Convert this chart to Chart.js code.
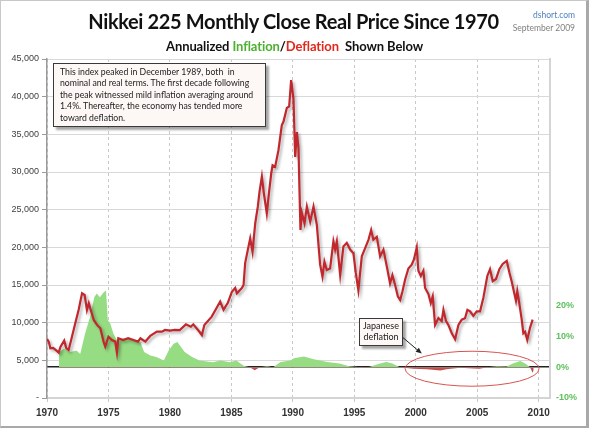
<!DOCTYPE html>
<html>
<head>
<meta charset="utf-8">
<script src="https://cdn.jsdelivr.net/npm/chart.js@4.4.1/dist/chart.umd.min.js"></script>
<style>
  body { margin: 0; background: #fff; }
  #wrap { position: relative; width: 590px; height: 429px; font-family: Lato, "Open Sans", sans-serif; }
  #frame { position: absolute; left: 0; top: 0; width: 585px; height: 425px;
           border: 1px solid #c8c8c8; border-right: 3px solid #a9a9a9; border-bottom: 2px solid #a9a9a9; pointer-events: none; }
  canvas { position: absolute; left: 0; top: 0; }
  #title { position: absolute; left: 0; top: 11px; width: 587px; text-align: center; white-space: nowrap;
           font-size: 20px; font-weight: 700; line-height: 1; color: #111; letter-spacing: -0.35px; }
  #subtitle { position: absolute; left: 0; top: 40px; width: 589px; text-align: center; white-space: nowrap;
              font-size: 13px; font-weight: 700; line-height: 1; color: #111; letter-spacing: -0.1px; }
  #subtitle .inf { color: #4cb030; }
  #subtitle .def { color: #e0281c; }
  #source { position: absolute; right: 15px; top: 9px; text-align: right; font-size: 8.5px; line-height: 13px; }
  #source .site { color: #4f81bd; }
  #source .date { color: #808080; }
  .note { position: absolute; background: #fdf8f6; border: 1px solid #3a3a3a; color: #222;
          box-shadow: 3px 3px 2px rgba(0,0,0,0.35); white-space: pre; }
  #note1 { left: 53px; top: 63px; width: 205px; height: 60px; padding: 2px 0 0 6px;
           font-size: 8.7px; line-height: 11.4px; }
  #note2 { left: 359px; top: 318px; width: 42px; height: 25px; text-align: center;
           font-size: 9px; line-height: 11px; padding-top: 1px; }
</style>
</head>
<body>
<div id="wrap">
  <canvas id="nikkeiChart" width="590" height="429"></canvas>
  <div id="title">Nikkei 225 Monthly Close Real Price Since 1970</div>
  <div id="subtitle">Annualized <span class="inf">Inflation</span>/<span class="def">Deflation</span>&nbsp; Shown Below</div>
  <div id="source"><div class="site">dshort.com</div><div class="date">September 2009</div></div>
  <div class="note" id="note1">This index peaked in December 1989, both  in
nominal and real terms. The first decade following
the peak witnessed mild inflation averaging around
1.4%. Thereafter, the economy has tended more
toward deflation.</div>
  <div class="note" id="note2">Japanese
deflation</div>
  <div id="frame"></div>
</div>

<script>
/* =====================================
   DATA
===================================== */

const priceYears = [
    1970.00, 1970.14, 1970.27, 1970.50, 1970.70, 1970.95, 1971.10, 1971.40, 1971.57, 1971.76,
    1972.03, 1972.30, 1972.57, 1972.85, 1973.06, 1973.25, 1973.40, 1973.60, 1973.80, 1974.07,
    1974.34, 1974.60, 1974.74, 1975.00, 1975.28, 1975.55, 1975.69, 1975.80, 1976.20, 1976.60,
    1977.03, 1977.40, 1977.60, 1978.00, 1978.40, 1978.94, 1979.35, 1979.60, 1980.00, 1980.40,
    1980.80, 1981.30, 1981.70, 1981.90, 1982.40, 1982.60, 1982.80, 1983.40, 1984.09, 1984.36,
    1984.70, 1985.04, 1985.31, 1985.45, 1985.85, 1985.99, 1986.12, 1986.34, 1986.53, 1986.72,
    1986.94, 1987.15, 1987.29, 1987.48, 1987.64, 1987.88, 1988.07, 1988.24, 1988.35, 1988.56,
    1988.83, 1989.10, 1989.24, 1989.51, 1989.70, 1989.86, 1990.05, 1990.19, 1990.33, 1990.46,
    1990.62, 1990.73, 1990.95, 1991.14, 1991.41, 1991.68, 1991.95, 1992.22, 1992.41, 1992.57,
    1992.76, 1993.03, 1993.30, 1993.44, 1993.58, 1993.85, 1994.11, 1994.39, 1994.66, 1994.93,
    1995.12, 1995.33, 1995.61, 1995.88, 1996.15, 1996.37, 1996.55, 1996.83, 1997.10, 1997.37,
    1997.64, 1997.91, 1998.10, 1998.32, 1998.54, 1998.73, 1998.91, 1999.13, 1999.40, 1999.67,
    1999.85, 2000.08, 2000.21, 2000.41, 2000.62, 2000.76, 2001.03, 2001.22, 2001.38, 2001.57,
    2001.84, 2002.11, 2002.25, 2002.46, 2002.65, 2002.93, 2003.20, 2003.47, 2003.74, 2004.01,
    2004.20, 2004.42, 2004.68, 2004.96, 2005.23, 2005.50, 2005.82, 2006.04, 2006.26, 2006.53,
    2006.80, 2007.07, 2007.40, 2007.61, 2007.80, 2008.15, 2008.26, 2008.42, 2008.62, 2008.75,
    2008.89, 2009.07, 2009.29, 2009.51
];

const priceValues = [
    7840, 7490, 6600, 6650, 6380, 6030, 6820, 7620, 6600, 6380,
    8140, 9920, 11680, 13900, 13670, 11680, 12570, 11460, 10360, 9700,
    9250, 7490, 6820, 8140, 7700, 7490, 6030, 7930, 7700, 7930,
    7700, 7490, 7930, 7490, 8240, 8810, 8810, 9030, 8940, 9030,
    9020, 9780, 9460, 9780, 8790, 8350, 9690, 10800, 12800, 11700,
    12600, 14100, 14600, 13900, 14600, 15000, 17900, 19700, 21200, 19400,
    23200, 25400, 27400, 29400, 27200, 24500, 27400, 29800, 30900, 30700,
    32900, 36200, 36700, 38500, 38700, 42200, 39700, 32000, 35300, 33100,
    22300, 24600, 23200, 25400, 23400, 25400, 23000, 17700, 16100, 18100,
    17000, 17200, 20800, 19700, 20800, 16300, 20100, 20600, 19700, 19200,
    16600, 14300, 18800, 19900, 21000, 22300, 21000, 21400, 18800, 19700,
    17500, 15200, 16300, 15000, 13500, 13000, 14100, 15700, 17200, 17700,
    18400, 20000, 16900, 16200, 16900, 14600, 13800, 12600, 13500, 9700,
    10600, 10200, 11700, 10200, 9700, 8600, 7800, 9700, 10400, 10600,
    11700, 11500, 10900, 11500, 11500, 13300, 16200, 17100, 15500, 15800,
    17100, 17800, 18200, 16700, 15500, 12900, 14200, 12600, 10400, 8600,
    8800, 7700, 9300, 10400
];

const inflationYears = [
    1970.97, 1971.40, 1971.90, 1972.40, 1972.70, 1973.10, 1973.50, 1973.85, 1974.05, 1974.30,
    1974.60, 1974.80, 1974.95, 1975.15, 1975.40, 1975.70, 1976.20, 1976.80, 1977.00, 1977.60,
    1977.90, 1978.40, 1978.90, 1979.50, 1979.90, 1980.30, 1980.60, 1980.80, 1981.20, 1981.80,
    1982.40, 1983.50, 1984.10, 1984.90, 1985.40, 1986.00, 1986.50, 1986.90, 1987.30, 1987.90,
    1988.40, 1989.00, 1989.80, 1990.10, 1990.90, 1991.70, 1992.80, 1993.80, 1994.60, 1995.50,
    1996.00, 1997.10, 1997.60, 1998.10, 1998.70, 1999.80, 2000.90, 2002.00, 2002.50, 2003.60,
    2004.70, 2005.20, 2005.80, 2006.60, 2007.40, 2007.90, 2008.50, 2008.90, 2009.30, 2009.50,
    2009.60
];

const inflationValues = [
    4.9, 6.0, 4.9, 5.4, 4.3, 10.9, 16.3, 22.8, 23.9, 22.7,
    24.2, 24.9, 15.2, 14.2, 10.9, 8.7, 9.3, 9.3, 8.7, 8.2,
    4.9, 3.8, 3.3, 2.2, 5.4, 7.6, 8.2, 7.1, 4.9, 3.3,
    2.2, 1.6, 2.2, 1.6, 2.2, 0.5, 0.0, -1.0, 0.0, 0.3,
    0.0, 1.7, 2.2, 2.9, 3.5, 2.6, 1.7, 1.2, 0.3, 0.0,
    -0.2, 1.2, 1.7, 1.2, 0.0, -0.5, -0.7, -1.1, -0.7, -0.2,
    -0.4, -0.5, 0.0, 0.3, 0.2, 1.2, 2.0, 1.2, 0.0, -1.8,
    -1.0
];

const yearTicks = [1970, 1975, 1980, 1985, 1990, 1995, 2000, 2005, 2010];
const priceTicks = [0, 5000, 10000, 15000, 20000, 25000, 30000, 35000, 40000, 45000];
const percentTicks = [-10, 0, 10, 20];

/* =====================================
   CALLOUT (ellipse + arrow) PLACEMENT
===================================== */

const ellipseSpot = { year: 2004.58, pct: -0.5, halfYears: 5.45, halfPx: 17.5 };
const arrowFrom = { year: 1998.72, pct: 10.4 };
const arrowTo = { year: 2000.49, pct: 4.4 };

/* =====================================
   PLUGINS
===================================== */

const lineShadow = {
    id: "lineShadow",
    beforeDatasetDraw(chart, args) {
        if (args.index !== 0) return;
        const ctx = chart.ctx;
        ctx.save();
        ctx.shadowColor = "rgba(0,0,0,0.32)";
        ctx.shadowBlur = 3;
        ctx.shadowOffsetX = 2;
        ctx.shadowOffsetY = 2;
    },
    afterDatasetDraw(chart, args) {
        if (args.index !== 0) return;
        chart.ctx.restore();
    }
};

const deflationCallout = {
    id: "deflationCallout",
    afterDatasetsDraw(chart) {
        const { ctx, scales } = chart;
        const x = scales.x, y2 = scales.y2;

        // ellipse round the deflation years
        const cx = x.getPixelForValue(ellipseSpot.year);
        const cy = y2.getPixelForValue(ellipseSpot.pct);
        const rx = x.getPixelForValue(ellipseSpot.year + ellipseSpot.halfYears) - cx;
        ctx.save();
        ctx.strokeStyle = "#d9534f";
        ctx.lineWidth = 1;
        ctx.beginPath();
        ctx.ellipse(cx, cy, rx, ellipseSpot.halfPx, 0, 0, Math.PI * 2);
        ctx.stroke();

        // arrow from the label box
        const x1 = x.getPixelForValue(arrowFrom.year), y1 = y2.getPixelForValue(arrowFrom.pct);
        const x2 = x.getPixelForValue(arrowTo.year), y2p = y2.getPixelForValue(arrowTo.pct);
        const ang = Math.atan2(y2p - y1, x2 - x1);
        ctx.strokeStyle = "#222";
        ctx.fillStyle = "#222";
        ctx.beginPath();
        ctx.moveTo(x1, y1);
        ctx.lineTo(x2 - 4 * Math.cos(ang), y2p - 4 * Math.sin(ang));
        ctx.stroke();
        ctx.beginPath();
        ctx.moveTo(x2, y2p);
        ctx.lineTo(x2 - 6 * Math.cos(ang) + 2.5 * Math.sin(ang), y2p - 6 * Math.sin(ang) - 2.5 * Math.cos(ang));
        ctx.lineTo(x2 - 6 * Math.cos(ang) - 2.5 * Math.sin(ang), y2p - 6 * Math.sin(ang) + 2.5 * Math.cos(ang));
        ctx.closePath();
        ctx.fill();
        ctx.restore();
    }
};

/* =====================================
   CHART
===================================== */

Chart.defaults.font.family = '"Liberation Sans", Arial, sans-serif';

const priceData = priceYears.map((yr, i) => ({ x: yr, y: priceValues[i] }));
const inflationData = inflationYears.map((yr, i) => ({ x: yr, y: inflationValues[i] }));

new Chart(document.getElementById("nikkeiChart").getContext("2d"), {
    type: "line",
    data: {
        datasets: [
            {
                label: "Nikkei 225 real price",
                data: priceData,
                yAxisID: "y",
                borderColor: "#c1272d",
                borderWidth: 2.2,
                pointRadius: 0,
                tension: 0,
                fill: false
            },
            {
                label: "Annualized inflation",
                data: inflationData,
                yAxisID: "y2",
                borderColor: "rgba(0,0,0,0)",
                borderWidth: 0,
                pointRadius: 0,
                tension: 0,
                fill: { target: "origin", above: "#96dc82", below: "#c0504d" }
            }
        ]
    },
    options: {
        responsive: false,
        animation: false,
        layout: { padding: { top: 59, left: 0, right: 0, bottom: 0 } },
        plugins: {
            legend: { display: false },
            tooltip: { enabled: false }
        },
        scales: {
            x: {
                type: "linear",
                min: 1970,
                max: 2010.92,
                afterBuildTicks: s => { s.ticks = yearTicks.map(v => ({ value: v })); },
                afterFit: s => { s.height = 31; },
                grid: { color: "#c8c8c8", lineWidth: 1, tickLength: 6, tickColor: "#c8c8c8", tickBorderDash: [3, 3] },
                border: { color: "#d4d4d4", width: 2, dash: [3, 3] },
                ticks: {
                    font: { size: 10, weight: "bold" },
                    color: "#333",
                    padding: 3,
                    maxRotation: 0,
                    callback: v => String(v)
                }
            },
            y: {
                position: "left",
                min: 0,
                max: 45000,
                afterBuildTicks: s => { s.ticks = priceTicks.map(v => ({ value: v })); },
                afterFit: s => { s.width = 47; },
                grid: { color: "#d9d9d9", lineWidth: 1, tickLength: 5, tickColor: "#9a9a9a" },
                border: { color: "#9a9a9a", width: 1.5 },
                ticks: {
                    font: { size: 9 },
                    color: "#404040",
                    padding: 3,
                    callback: v => v === 0 ? "-" : v.toLocaleString("en-US")
                }
            },
            y2: {
                position: "right",
                min: -10,
                max: 100,
                afterBuildTicks: s => { s.ticks = percentTicks.map(v => ({ value: v })); },
                afterFit: s => { s.width = 40; },
                grid: {
                    drawTicks: false,
                    lineWidth: 1.5,
                    color: c => (c.tick && c.tick.value === 0) ? "#222" : "rgba(0,0,0,0)"
                },
                border: { color: "#d4d4d4", width: 2 },
                ticks: {
                    font: { size: 9, weight: "bold" },
                    color: "#5cc05c",
                    padding: 6,
                    callback: v => v + "%"
                }
            }
        }
    },
    plugins: [lineShadow, deflationCallout]
});
</script>
</body>
</html>
